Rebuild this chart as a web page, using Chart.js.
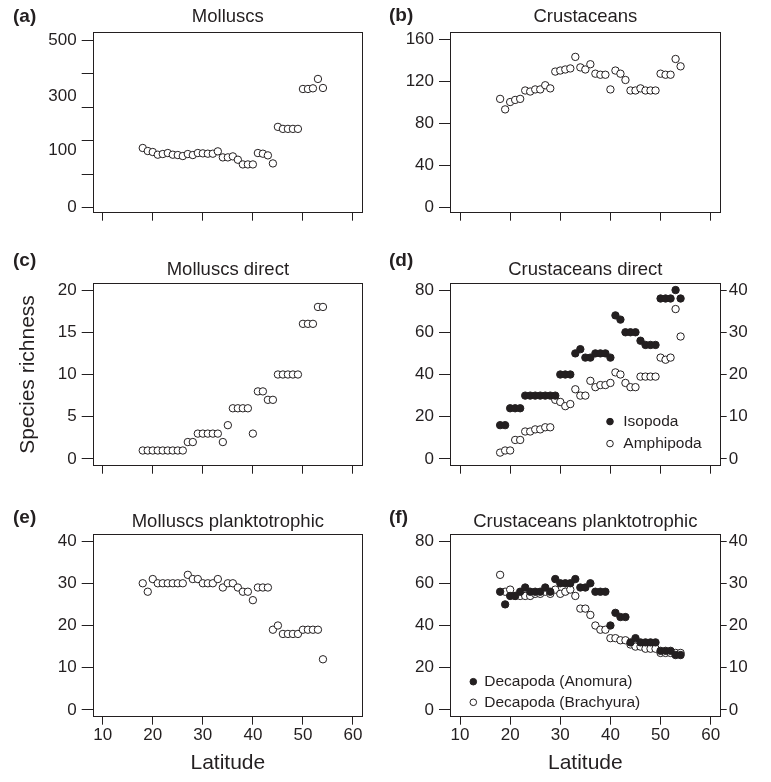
<!DOCTYPE html>
<html>
<head>
<meta charset="utf-8">
<title>Species richness by latitude</title>
<script src="https://cdn.jsdelivr.net/npm/chart.js@4.4.1/dist/chart.umd.min.js"></script>
<style>
  body { margin: 0; background: #fff; }
  #fig { position: relative; width: 771px; height: 782px; font-family: 'Liberation Sans', Arial, sans-serif; color: #231f20; }
  #fig canvas { position: absolute; }
  .tag { position: absolute; font-weight: bold; font-size: 19px; line-height: 20px; }
</style>
</head>
<body>
<div id="fig">
  <canvas id="chartA" width="380" height="250" style="left:0;top:0"></canvas>
  <canvas id="chartB" width="391" height="250" style="left:380px;top:0"></canvas>
  <canvas id="chartC" width="380" height="250" style="left:0;top:250px"></canvas>
  <canvas id="chartD" width="391" height="250" style="left:380px;top:250px"></canvas>
  <canvas id="chartE" width="380" height="282" style="left:0;top:500px"></canvas>
  <canvas id="chartF" width="391" height="282" style="left:380px;top:500px"></canvas>
  <div class="tag" style="left:13px;top:6px">(a)</div>
  <div class="tag" style="left:389px;top:5px">(b)</div>
  <div class="tag" style="left:13px;top:250px">(c)</div>
  <div class="tag" style="left:389px;top:250px">(d)</div>
  <div class="tag" style="left:13px;top:507px">(e)</div>
  <div class="tag" style="left:389px;top:507px">(f)</div>
</div>
<script>
const latitude = [18,19,20,21,22,23,24,25,26,27,28,29,30,31,32,33,34,35,36,37,38,39,40,41,42,43,44,45,46,47,48,49,50,51,52,53,54];

// (a) Molluscs, (b) Crustaceans
const molluscs = [178,169,166,158,160,163,158,157,154,160,157,163,162,161,161,168,150,150,153,143,129,129,129,163,161,156,132,241,235,235,235,235,354,354,356,384,357];
const crustaceans = [103,93,100,102,103,111,110,112,112,116,113,129,130,131,132,143,133,131,136,127,126,126,112,130,127,121,111,111,113,111,111,111,127,126,126,141,134];

// (c) Molluscs direct, (d) Crustaceans direct
const molluscsDirect = [1,1,1,1,1,1,1,1,1,2,2,3,3,3,3,3,2,4,6,6,6,6,3,8,8,7,7,10,10,10,10,10,16,16,16,18,18];
const isopoda = [8,8,12,12,12,15,15,15,15,15,15,15,20,20,20,25,26,24,24,25,25,25,24,34,33,30,30,30,28,27,27,27,38,38,38,40,38];   // right axis
const amphipoda = [3,4,4,9,9,13,13,14,14,15,15,28,27,25,26,33,30,30,37,34,35,35,36,41,40,36,34,34,39,39,39,39,48,47,48,71,58]; // left axis

// (e) Molluscs planktotrophic, (f) Crustaceans planktotrophic
const molluscsPlank = [30,28,31,30,30,30,30,30,30,32,31,31,30,30,30,31,29,30,30,29,28,28,26,29,29,29,19,20,18,18,18,18,19,19,19,19,12];
const anomura = [28,25,27,27,28,29,28,28,28,29,28,31,30,30,30,31,29,29,30,28,28,28,20,23,22,22,16,17,16,16,16,16,14,14,14,13,13];   // right axis
const brachyura = [64,56,57,54,54,54,54,55,55,56,55,57,55,56,57,54,48,48,45,40,38,38,34,34,33,33,31,30,30,29,29,29,27,27,27,27,27]; // left axis

// tick values
const latTicks = [10,20,30,40,50,60];
const molluscTickMarks = [0,100,200,300,400,500];
const molluscTickLabels = ['0','100','300','500'];
const molluscLabelAt = [0,171,333,500];
const crustTicks = [0,40,80,120,160];
const directTicks = [0,5,10,15,20];
const leftTicks80 = [0,20,40,60,80];
const rightTicks40 = [0,10,20,30,40];
const plankTicks = [0,10,20,30,40];

const ink = '#231f20';
Chart.defaults.font.family = "'Liberation Sans', Arial, sans-serif";
Chart.defaults.color = ink;

function pts(ys) {
  return latitude.map((x, i) => ({x: x, y: ys[i]}));
}

function series(label, ys, filled, axis) {
  return {
    label: label,
    data: pts(ys),
    yAxisID: axis || 'y',
    pointRadius: 3.7,
    pointBorderWidth: 1,
    pointBorderColor: ink,
    pointBackgroundColor: filled ? ink : '#fff',
    showLine: false
  };
}

// box round the plot region
const boxPlugin = {
  id: 'box',
  afterDraw(chart) {
    const {ctx, chartArea: a} = chart;
    const l = Math.round(a.left) + 0.5, t = Math.round(a.top) + 0.5;
    const r = Math.round(a.right) - 0.5, b = Math.round(a.bottom) - 0.5;
    ctx.save();
    ctx.strokeStyle = ink;
    ctx.lineWidth = 1;
    ctx.strokeRect(l, t, r - l, b - t);
    ctx.restore();
  }
};

// legend drawn inside the plot
const innerLegend = {
  id: 'innerLegend',
  afterDraw(chart, args, opts) {
    if (!opts.show) return;
    const {ctx, chartArea: a} = chart;
    ctx.save();
    ctx.font = "15.5px 'Liberation Sans', Arial, sans-serif";
    ctx.textBaseline = 'middle';
    chart.data.datasets.forEach((ds, i) => {
      const cx = a.left + opts.dx;
      const cy = a.top + opts.dy + i * opts.rowGap;
      ctx.beginPath();
      ctx.arc(cx, cy, 3.3, 0, Math.PI * 2);
      ctx.fillStyle = ds.pointBackgroundColor;
      ctx.fill();
      ctx.strokeStyle = ink;
      ctx.lineWidth = 1;
      ctx.stroke();
      ctx.fillStyle = ink;
      ctx.fillText(ds.label, cx + opts.textGap, cy);
    });
    ctx.restore();
  }
};

function xScale(height, showLabels) {
  return {
    type: 'linear', min: 8, max: 62, bounds: 'data',
    afterBuildTicks: s => { s.ticks = latTicks.map(v => ({value: v})); },
    afterFit: s => { s.height = height; },
    grid: {drawOnChartArea: false, drawTicks: true, tickLength: 8, color: ink, tickColor: ink},
    border: {display: false},
    ticks: {display: showLabels, padding: 0, maxRotation: 0, font: {size: 17}, color: ink},
    title: showLabels
      ? {display: true, text: 'Latitude', font: {size: 21}, color: ink, padding: {top: 0, bottom: 6.4}}
      : {display: false}
  };
}

function yScale(o) {
  const right = o.position === 'right';
  return {
    type: 'linear', position: o.position || 'left', min: o.min, max: o.max, bounds: 'data',
    afterBuildTicks: s => { s.ticks = o.ticks.map(v => ({value: v})); },
    afterFit: s => { s.width = o.width; },
    grid: {drawOnChartArea: false, drawTicks: true, tickLength: right ? 6 : 11, color: ink, tickColor: o.tickColor || ink},
    border: {display: false},
    ticks: {padding: right ? 2 : 5, font: {size: 17}, color: ink, callback: o.callback || (v => v)},
    title: o.title
      ? {display: true, text: o.title, font: {size: 21}, color: ink, padding: {top: 15.7, bottom: 0}}
      : {display: false}
  };
}

function panel(id, cfg) {
  return new Chart(document.getElementById(id), {
    type: 'scatter',
    data: {datasets: cfg.datasets},
    options: {
      responsive: false,
      animation: false,
      events: [],
      layout: {padding: {left: 0, right: cfg.padRight, top: 0, bottom: 0}},
      plugins: {
        legend: {display: false},
        tooltip: {enabled: false},
        title: {
          display: true, text: cfg.title, fullSize: false, color: ink,
          font: {size: 18.5, weight: 'normal'}, padding: cfg.titlePad
        },
        innerLegend: cfg.legend || {show: false}
      },
      scales: cfg.scales
    },
    plugins: [boxPlugin, innerLegend]
  });
}

const molluscTickAll = [...new Set([...molluscTickMarks, ...molluscLabelAt])].sort((a, b) => a - b);

// row 1
panel('chartA', {
  title: 'Molluscs', padRight: 17, titlePad: {top: 5.9, bottom: 3.9},
  datasets: [series('Molluscs', molluscs, false)],
  scales: {
    x: xScale(37.3, false),
    y: yScale({
      min: -15, max: 524, width: 92.7, ticks: molluscTickAll,
      callback: v => { const i = molluscLabelAt.indexOf(v); return i >= 0 ? molluscTickLabels[i] : ''; },
      tickColor: c => molluscTickMarks.includes(c.tick.value) ? ink : 'rgba(0,0,0,0)'
    })
  }
});

panel('chartB', {
  title: 'Crustaceans', padRight: 50.3, titlePad: {top: 5.9, bottom: 3.9},
  datasets: [series('Crustaceans', crustaceans, false)],
  scales: {
    x: xScale(37.3, false),
    y: yScale({min: -5.4, max: 166.7, width: 70, ticks: crustTicks})
  }
});

// row 2
panel('chartC', {
  title: 'Molluscs direct', padRight: 17, titlePad: {top: 8.9, bottom: 2.2},
  datasets: [series('Molluscs direct', molluscsDirect, false)],
  scales: {
    x: xScale(34.3, false),
    y: yScale({min: -0.8, max: 20.8, width: 92.7, ticks: directTicks, title: 'Species richness'})
  }
});

panel('chartD', {
  title: 'Crustaceans direct', padRight: 0, titlePad: {top: 8.9, bottom: 2.2},
  datasets: [
    series('Isopoda', isopoda, true, 'y2'),
    series('Amphipoda', amphipoda, false, 'y')
  ],
  legend: {show: true, dx: 160, dy: 138.3, rowGap: 22, textGap: 13.3},
  scales: {
    x: xScale(34.3, false),
    y: yScale({min: -3.2, max: 83.2, width: 70, ticks: leftTicks80}),
    y2: yScale({position: 'right', min: -1.6, max: 41.6, width: 50.3, ticks: rightTicks40})
  }
});

// row 3
panel('chartE', {
  title: 'Molluscs planktotrophic', padRight: 17, titlePad: {top: 10.6, bottom: 1.5},
  datasets: [series('Molluscs planktotrophic', molluscsPlank, false)],
  scales: {
    x: xScale(65.3, true),
    y: yScale({min: -1.6, max: 41.6, width: 92.7, ticks: plankTicks})
  }
});

panel('chartF', {
  title: 'Crustaceans planktotrophic', padRight: 0, titlePad: {top: 10.6, bottom: 1.5},
  datasets: [
    series('Decapoda (Anomura)', anomura, true, 'y2'),
    series('Decapoda (Brachyura)', brachyura, false, 'y')
  ],
  legend: {show: true, dx: 23.3, dy: 147.4, rowGap: 20.6, textGap: 11},
  scales: {
    x: xScale(65.3, true),
    y: yScale({min: -3.2, max: 83.2, width: 70, ticks: leftTicks80}),
    y2: yScale({position: 'right', min: -1.6, max: 41.6, width: 50.3, ticks: rightTicks40})
  }
});
</script>
</body>
</html>
